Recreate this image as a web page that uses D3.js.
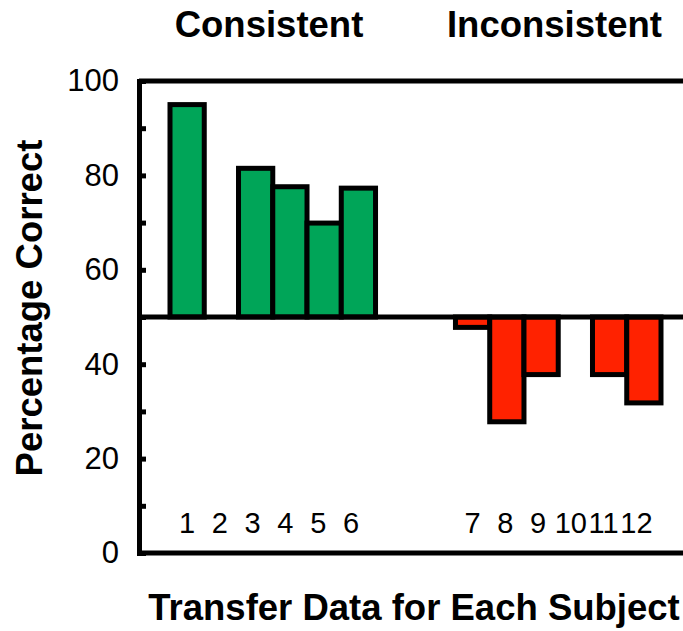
<!DOCTYPE html>
<html>
<head>
<meta charset="utf-8">
<script src="https://cdn.jsdelivr.net/npm/d3@7"></script>
<style>
  body { margin: 0; background: #fff; }
  text { font-family: "Liberation Sans", Arial, Helvetica, sans-serif; fill: #000; }
</style>
</head>
<body>
<div id="chart"></div>
<script>
// data
var groups = ["Consistent", "Inconsistent"];
var consistentSubjects = ["1", "2", "3", "4", "5", "6"];
var consistentValues = [95, 50, 81.5, 77.6, 69.9, 77.3];
var inconsistentSubjects = ["7", "8", "9", "10", "11", "12"];
var inconsistentValues = [47.8, 27.8, 37.8, 50, 37.8, 31.8];
var yTicks = [0, 10, 20, 30, 40, 50, 60, 70, 80, 90, 100];
var chanceLevel = 50;

var W = 683, H = 631;
var margin = { top: 81, left: 139 };
var w = W - margin.left;   // plot runs to the right edge
var h = 472;

var subjectsByGroup = { "Consistent": consistentSubjects, "Inconsistent": inconsistentSubjects };
var valuesByGroup = { "Consistent": consistentValues, "Inconsistent": inconsistentValues };
var colorByGroup = { "Consistent": "#00a558", "Inconsistent": "#ff2200" };

var svg = d3.select("#chart")
    .append("svg")
    .attr("width", W)
    .attr("height", H);

var g = svg.append("g")
    .attr("transform", "translate(" + margin.left + "," + margin.top + ")");

// scales
var yScale = d3.scaleLinear().domain([0, 100]).range([h, 0]);

var x0 = d3.scaleBand()
    .domain(groups)
    .range([31, 522])
    .paddingInner(0.28);

var x1 = d3.scaleBand()
    .domain(d3.range(6))
    .range([0, x0.bandwidth()]);

// the subject numbers sit a little left of the bars in the original
var xLabel = d3.scalePoint()
    .domain(d3.range(6))
    .range([17, 181]);

// bars, growing up or down from 50%
groups.forEach(function(grp) {
    var vals = valuesByGroup[grp];
    var gg = g.append("g")
        .attr("class", "group")
        .attr("transform", "translate(" + x0(grp) + ",0)");

    gg.selectAll("rect")
        .data(vals.map(function(v, i) { return { i: i, v: v }; })
              .filter(function(d) { return d.v !== chanceLevel; }))
        .enter()
        .append("rect")
        .attr("x", function(d) { return x1(d.i); })
        .attr("y", function(d) { return Math.min(yScale(d.v), yScale(chanceLevel)); })
        .attr("width", x1.bandwidth())
        .attr("height", function(d) { return Math.abs(yScale(d.v) - yScale(chanceLevel)); })
        .attr("fill", colorByGroup[grp])
        .attr("stroke", "#000")
        .attr("stroke-width", 5);

    gg.selectAll("text.subject")
        .data(subjectsByGroup[grp])
        .enter()
        .append("text")
        .attr("class", "subject")
        .attr("x", function(d, i) { return xLabel(i); })
        .attr("y", h - 20)
        .attr("text-anchor", "middle")
        .style("font-size", "29px")
        .text(function(d) { return d; });

    // group title, centred over the subject numbers
    gg.append("text")
        .attr("x", (xLabel(0) + xLabel(5)) / 2)
        .attr("y", -44)
        .attr("text-anchor", "middle")
        .style("font-size", "36.5px")
        .style("font-weight", "bold")
        .text(grp);
});

// 50% line across the plot
g.append("line")
    .attr("x1", 0)
    .attr("x2", w)
    .attr("y1", yScale(chanceLevel))
    .attr("y2", yScale(chanceLevel))
    .attr("stroke", "#000")
    .attr("stroke-width", 5);

// top and bottom frame lines
g.selectAll("line.frame")
    .data([0, 100])
    .enter()
    .append("line")
    .attr("class", "frame")
    .attr("x1", 0)
    .attr("x2", w)
    .attr("y1", function(d) { return yScale(d); })
    .attr("y2", function(d) { return yScale(d); })
    .attr("stroke", "#000")
    .attr("stroke-width", 5);

// y axis, ticks point inward
var yAxis = d3.axisLeft(yScale)
    .tickValues(yTicks)
    .tickSizeInner(-7)
    .tickSizeOuter(0)
    .tickPadding(20)
    .tickFormat(function(d) { return d % 20 === 0 ? d : ""; });

var ya = g.append("g")
    .attr("class", "y axis")
    .call(yAxis);

ya.select(".domain").attr("stroke", "#000").attr("stroke-width", 5).attr("stroke-linecap", "square");
ya.selectAll(".tick line").attr("stroke", "#000").attr("stroke-width", 5);
ya.selectAll(".tick text")
    .style("font-size", "31px")
    .attr("fill", "#000");

// axis titles
svg.append("text")
    .attr("x", 414)
    .attr("y", 620)
    .attr("text-anchor", "middle")
    .style("font-size", "36.5px")
    .style("font-weight", "bold")
    .text("Transfer Data for Each Subject");

svg.append("text")
    .attr("transform", "translate(42,308) rotate(-90)")
    .attr("text-anchor", "middle")
    .style("font-size", "36.5px")
    .style("font-weight", "bold")
    .text("Percentage Correct");
</script>
</body>
</html>
